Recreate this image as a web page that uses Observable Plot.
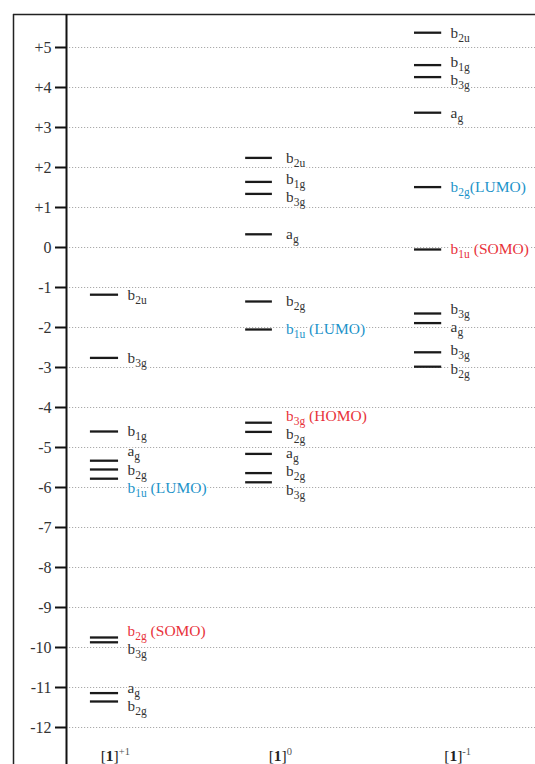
<!DOCTYPE html>
<html><head><meta charset="utf-8">
<script src="https://cdn.jsdelivr.net/npm/d3@7"></script>
<script src="https://cdn.jsdelivr.net/npm/@observablehq/plot@0.6"></script>
<style>
html,body{margin:0;padding:0;background:#fff;}
</style></head><body><div id="chart"></div>
<script>
// ---- data (energies in eV) ----
const energyTicks = d3.range(-12, 6);
const columnNames = ["[1]+1", "[1]0", "[1]-1"];

const cationEnergies   = [-1.18, -2.76, -4.60, -5.33, -5.55, -5.78, -9.75, -9.87, -11.14, -11.35];
const cationSymmetries = ["b2u", "b3g", "b1g", "ag", "b2g", "b1u", "b2g", "b3g", "ag", "b2g"];
const cationNotes      = ["", "", "", "", "", " (LUMO)", " (SOMO)", "", "", ""];

const neutralEnergies   = [2.24, 1.64, 1.34, 0.33, -1.35, -2.05, -4.38, -4.61, -5.16, -5.64, -5.87];
const neutralSymmetries = ["b2u", "b1g", "b3g", "ag", "b2g", "b1u", "b3g", "b2g", "ag", "b2g", "b3g"];
const neutralNotes      = ["", "", "", "", "", " (LUMO)", " (HOMO)", "", "", "", ""];

const anionEnergies   = [5.37, 4.56, 4.26, 3.37, 1.51, -0.05, -1.65, -1.89, -2.62, -2.98];
const anionSymmetries = ["b2u", "b1g", "b3g", "ag", "b2g", "b1u", "b3g", "ag", "b3g", "b2g"];
const anionNotes      = ["", "", "", "", "(LUMO)", " (SOMO)", "", "", "", ""];

// ---- layout (fractions of the plot width) ----
const layout = [
  {x1: 0.051, x2: 0.111, lx: 0.130, cx: 0.104},
  {x1: 0.382, x2: 0.439, lx: 0.468, cx: 0.456},
  {x1: 0.742, x2: 0.800, lx: 0.819, cx: 0.834}
];
const yTop = 5.825, yBottom = -12.925;
const labelGap = 0.46;

function dodge(values, gap) {
  const order = d3.range(values.length).sort((a, b) => values[b] - values[a]);
  const clusters = [];
  for (const i of order) {
    clusters.push({ids: [i], sum: values[i]});
    while (clusters.length > 1) {
      const b = clusters[clusters.length - 1], a = clusters[clusters.length - 2];
      const aLow = a.sum / a.ids.length - (a.ids.length - 1) / 2 * gap;
      const bHigh = b.sum / b.ids.length + (b.ids.length - 1) / 2 * gap;
      if (aLow - bHigh < gap) {
        clusters.splice(clusters.length - 2, 2, {ids: a.ids.concat(b.ids), sum: a.sum + b.sum});
      } else break;
    }
  }
  const out = new Array(values.length);
  for (const c of clusters) {
    const n = c.ids.length, m = c.sum / n;
    c.ids.forEach((id, k) => out[id] = m + ((n - 1) / 2 - k) * gap);
  }
  return out;
}

const columns = [
  [cationEnergies, cationSymmetries, cationNotes],
  [neutralEnergies, neutralSymmetries, neutralNotes],
  [anionEnergies, anionSymmetries, anionNotes]
];
const levels = [];
columns.forEach(([E, S, N], col) => {
  const ly = dodge(E, labelGap);
  E.forEach((e, i) => levels.push({col, e, ly: ly[i], label: S[i] + N[i], note: N[i]}));
});
const colLabels = columnNames.map((name, col) => ({col, name}));

const noteColor = n => /LUMO/.test(n) ? "#1d93c9" : /SOMO|HOMO/.test(n) ? "#e8333b" : "#333";

const chart = Plot.plot({
  width: 535, height: 764,
  marginTop: 14, marginBottom: 0, marginLeft: 66, marginRight: 0,
  x: {domain: [0, 1], axis: null},
  y: {domain: [yBottom, yTop], axis: null},
  style: {fontFamily: "'Liberation Serif', 'Times New Roman', serif", fontSize: "15px", background: "#fff", color: "#222"},
  marks: [
    Plot.ruleY(energyTicks, {stroke: "#aaa", strokeDasharray: "1.2,1.8", strokeWidth: 1}),
    Plot.ruleY([yTop], {x1: -0.113, x2: 1, stroke: "#222", strokeWidth: 1.5}),
    Plot.ruleX([-0.113], {stroke: "#222", strokeWidth: 1.5}),
    Plot.ruleX([0], {stroke: "#111", strokeWidth: 2}),
    Plot.axisY(energyTicks, {
      tickSize: 11, tickPadding: 4, strokeWidth: 2, stroke: "#111", fill: "#333", fontSize: 16,
      tickFormat: d => d > 0 ? "+" + d : String(d)
    }),
    Plot.ruleY(levels, {
      y: "e", x1: d => layout[d.col].x1, x2: d => layout[d.col].x2,
      stroke: "#1a1a1a", strokeWidth: 2.3
    }),
    Plot.text(levels, {
      y: "ly", x: d => layout[d.col].lx, text: "label", textAnchor: "start",
      lineAnchor: "middle", fill: d => noteColor(d.note), fontSize: 15.5, className: "mo-label",
      stroke: "white", strokeWidth: 3
    }),
    Plot.text(colLabels, {
      y: -12.72, x: d => layout[d.col].cx, text: "name", textAnchor: "middle",
      lineAnchor: "middle", fill: "#222", fontSize: 15.5, className: "col-label"
    })
  ]
});

const NS = "http://www.w3.org/2000/svg";
function tspan(parent, txt, attrs) {
  const t = document.createElementNS(NS, "tspan");
  t.textContent = txt;
  for (const k in attrs) t.setAttribute(k, attrs[k]);
  parent.appendChild(t);
}
chart.querySelectorAll(".mo-label text").forEach(el => {
  const s = el.textContent;
  const m = /^([a-z])([0-9a-z]+)(.*)$/.exec(s);
  if (!m) return;
  el.textContent = "";
  tspan(el, m[1], {});
  tspan(el, m[2], {"font-size": "11.5px", dy: "4"});
  if (m[3]) tspan(el, m[3], {dy: "-4"});
});
chart.querySelectorAll(".col-label text").forEach(el => {
  const s = el.textContent;
  const m = /^\[1\](.*)$/.exec(s);
  if (!m) return;
  el.textContent = "";
  tspan(el, "[", {});
  tspan(el, "1", {"font-weight": "bold"});
  tspan(el, "]", {});
  tspan(el, m[1], {"font-size": "10.5px", dy: "-6", fill: "#555"});
});

document.getElementById("chart").appendChild(chart);
</script>
</body></html>
